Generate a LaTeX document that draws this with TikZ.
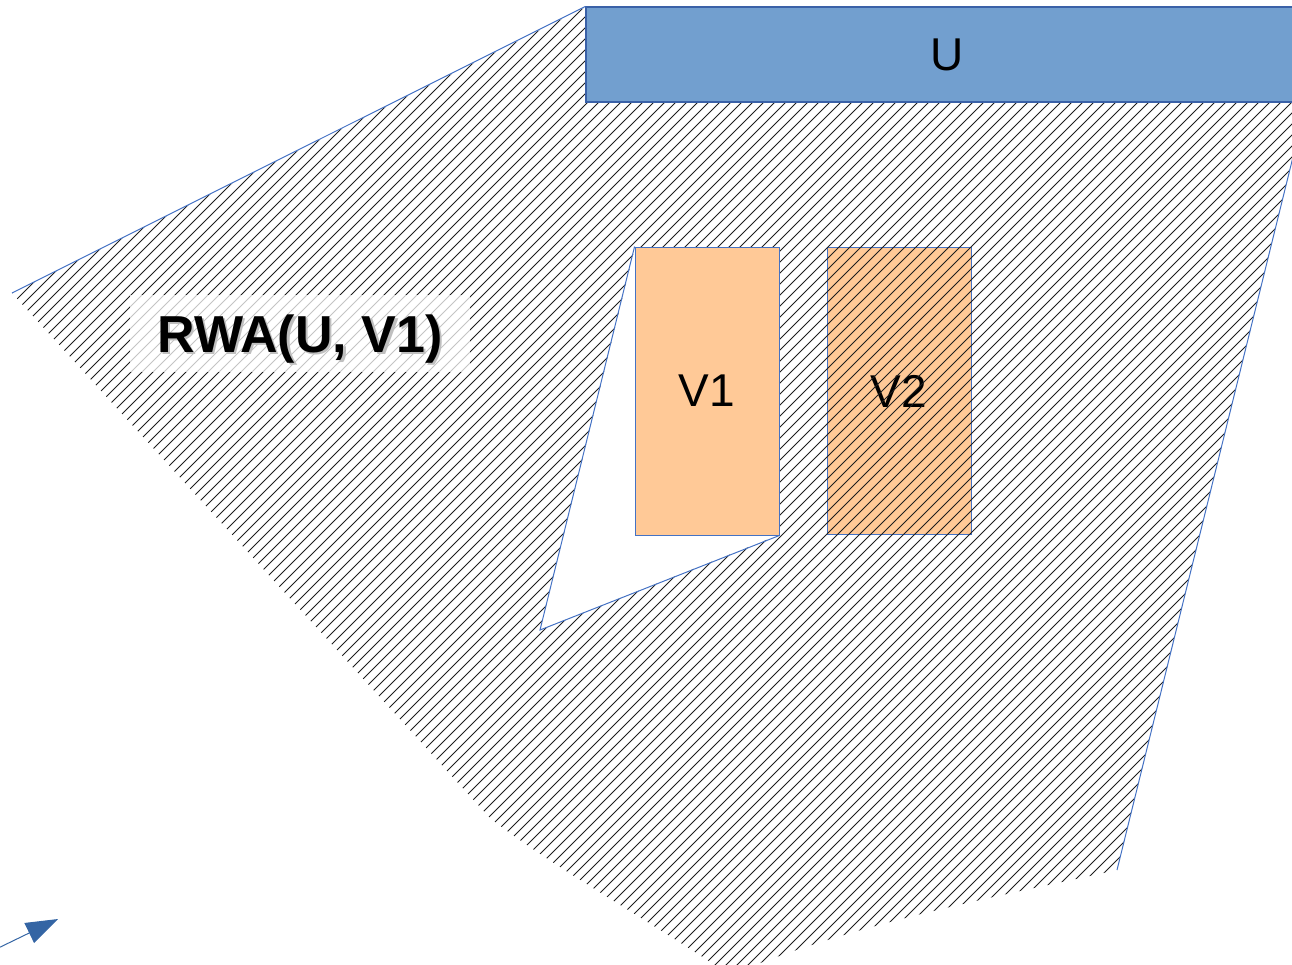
\documentclass[tikz,border=0pt]{standalone}
\usepackage{fontspec}
\setmainfont{Liberation Sans}
\usetikzlibrary{arrows.meta}
\definecolor{ublue}{RGB}{114,159,207}
\definecolor{edgeblue}{RGB}{68,114,196}
\definecolor{arrowblue}{RGB}{52,101,164}
\definecolor{vorange}{RGB}{255,201,151}
\definecolor{hatchgray}{RGB}{30,30,30}
\tikzset{
  box/.style={draw=edgeblue, line width=0.9pt, inner sep=0pt, font=\fontsize{46}{50}\selectfont},
  outline/.style={draw=edgeblue, line width=1pt},
  hatchline/.style={draw=hatchgray, line width=1pt},
  tag/.style={fill=white, fill opacity=0.74, text opacity=1, inner sep=0pt,
    minimum width=340pt, minimum height=77pt, text height=37pt, text depth=0pt,
    font=\fontsize{52}{56}\selectfont\bfseries},
}
\newcommand{\shadowtext}[1]{\makebox[0pt][l]{\hspace{2.5pt}\raisebox{-2.5pt}{\textcolor{black!25}{#1}}}#1}
\begin{document}
\begin{tikzpicture}[x=1pt,y=-1pt]
\useasboundingbox (0,0) rectangle (1292,964);
\begin{scope}
\clip (0,0) rectangle (1292,964);

% V2 lies under the hatched area
\node[box, fill=vorange, minimum width=144pt, minimum height=287pt] (v2) at (899,391) {V2};

% hatched area with the hole around V1
\begin{scope}[even odd rule]
  \clip
    (586,7) -- (1330,7) -- (1117,870)
      .. controls (980,900) and (850,925) .. (730,975)
      .. controls (640,915) and (550,865) .. (490,818)
      -- (12,293) -- cycle
    (635,247) -- (779,247) -- (779,535) -- (540,630) -- cycle;
  \foreach \a in {-1000,-989,...,1300}
    \draw[hatchline] (\a,975) -- ({\a+975},0);
\end{scope}

% U on top
\node[draw=edgeblue!85!black, line width=1.2pt, fill=ublue, inner sep=0pt,
      minimum width=722pt, minimum height=95pt, font=\fontsize{46}{50}\selectfont]
      (u) at (947,54.5) {U};

% V1 above the hole
\node[box, fill=vorange, minimum width=144pt, minimum height=288pt] (v1) at (707,391) {V1};

% outline of the hatched area and its hole
\draw[outline] (12,293) -- (u.north west);
\draw[outline] (1330,7) -- (1117,870);
\draw[outline] (v1.north west) -- (540,630) -- (v1.south east);

% label
\node[tag] (rwa) at (300,333.5) {\shadowtext{RWA(U, V1)}};

% arrow in the lower left
\coordinate (tail) at (-12,953);
\coordinate (tip) at (58,919);
\draw[arrowblue, line width=1pt, -{Triangle[length=32pt,width=22pt]}] (tail) -- (tip);
\end{scope}
\end{tikzpicture}
\end{document}
